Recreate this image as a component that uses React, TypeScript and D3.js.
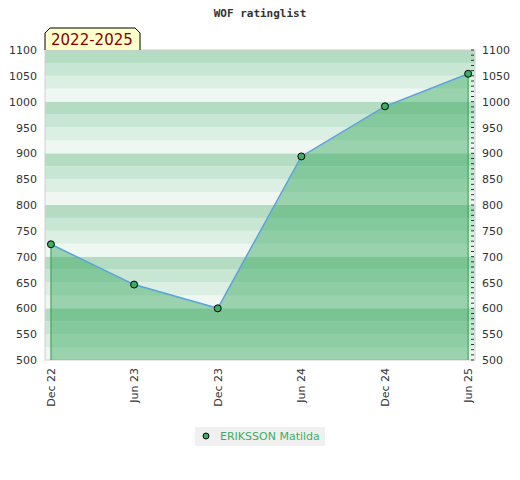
import React from 'react'
import * as d3 from 'd3'

const periods = ['2022-12-01', '2023-06-01', '2023-12-01', '2024-06-01', '2024-12-01', '2025-06-01']
const ratings = [724, 646, 600, 894, 991, 1054]
const yTicks = [500, 550, 600, 650, 700, 750, 800, 850, 900, 950, 1000, 1050, 1100]
const player = 'ERIKSSON Matilda'
const title = 'WOF ratinglist'
const rangeLabel = '2022-2025'

const stripeColors = ['#b3dcc2', '#c7e6d3', '#dbefe2', '#eef7f1']

function App() {
  const left = 45, right = 475, top = 50, bottom = 360
  const dates = periods.map(d => new Date(d))
  const x = d3.scaleTime()
    .domain([d3.timeDay.offset(dates[0], -13), d3.timeDay.offset(dates[dates.length - 1], 15)])
    .range([left, right])
  const y = d3.scaleLinear().domain([500, 1100]).range([bottom, top])

  const pts = dates.map((d, i) => ({ d, v: ratings[i] }))
  const area = d3.area<any>().x(p => x(p.d)).y0(bottom).y1(p => y(p.v))
  const line = d3.line<any>().x(p => x(p.d)).y(p => y(p.v))

  // 25-unit stripes, repeating every 100
  const stripes = d3.range(500, 1100, 25).map(v => ({ v, c: stripeColors[3 - ((v - 500) / 25) % 4] }))
  const minor = d3.range(500, 1101, 10)
  const fmt = d3.timeFormat('%b %y')
  const font = 'DejaVu Sans, sans-serif'

  return (
    <svg width={520} height={480} style={{ display: 'block', marginLeft: -8, marginTop: -8 }}>
      <rect width={520} height={480} fill="#fff" />
      <text x={260} y={17} textAnchor="middle" fontFamily="DejaVu Sans Mono, monospace" fontWeight="bold" fontSize={11} fill="#333">{title}</text>
      {stripes.map(s => (
        <rect key={s.v} x={left} width={right - left} y={y(s.v + 25)} height={y(s.v) - y(s.v + 25)} fill={s.c} />
      ))}
      <rect x={left} y={top} width={right - left} height={bottom - top} fill="none" stroke="#d0d0d0" />
      <path d={area(pts) || ''} fill="rgb(59,169,97)" fillOpacity={0.475} />
      <line x1={x(dates[0])} x2={x(dates[0])} y1={y(ratings[0])} y2={bottom} stroke="#2e9e50" />
      <line x1={x(dates[5])} x2={x(dates[5])} y1={y(ratings[5])} y2={bottom} stroke="#2e9e50" />
      <path d={line(pts) || ''} fill="none" stroke="#5ba3dc" strokeWidth={1.5} />
      {pts.map((p, i) => (
        <circle key={i} cx={x(p.d)} cy={y(p.v)} r={3.5} fill="#3cae64" stroke="#000" strokeWidth={1} />
      ))}
      {minor.map(v => (
        <line key={v} x1={right - 4} x2={right - 1} y1={y(v)} y2={y(v)} stroke="#333" />
      ))}
      {yTicks.map(v => (
        <g key={v} fontFamily={font} fontSize={11} fill="#333">
          <text x={37} y={y(v) + 4} textAnchor="end">{v}</text>
          <text x={482} y={y(v) + 4}>{v}</text>
        </g>
      ))}
      {dates.map((d, i) => (
        <text key={i} transform={`translate(${x(d) + 4},${bottom + 8}) rotate(-90)`} textAnchor="end"
          fontFamily={font} fontSize={11} fill="#333">{fmt(d)}</text>
      ))}
      <path d={`M${left},${top} V${top - 17} L${left + 5},${top - 22} H${left + 90} L${left + 95},${top - 17} V${top}`}
        fill="#ffffcc" stroke="#000" />
      <text x={left + 6} y={top - 5} fontFamily={font} fontSize={15} fill="#800000">{rangeLabel}</text>
      <rect x={195} y={427} width={130} height={19} fill="#f0f0f0" />
      <circle cx={206} cy={436} r={3} fill="#3cae64" stroke="#000" />
      <text x={220} y={440} fontFamily={font} fontSize={11} fill="#3cae64">{player}</text>
    </svg>
  )
}

export default App
